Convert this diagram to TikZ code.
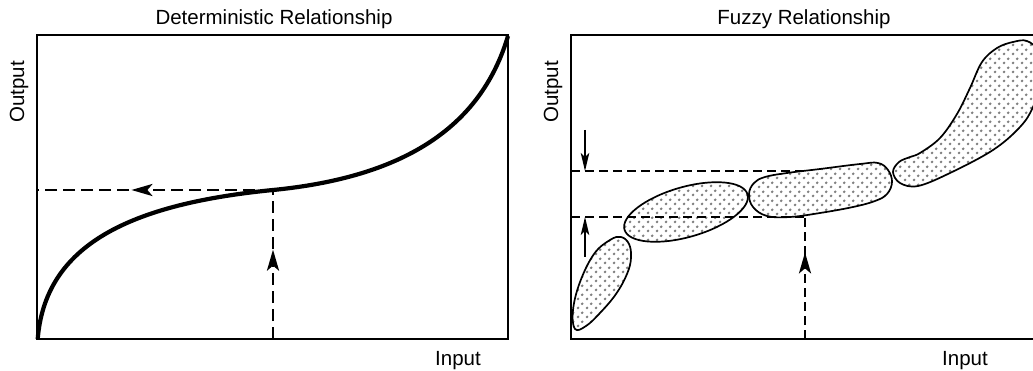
\documentclass[tikz,border=0pt]{standalone}
\usepackage{fontspec}
\setmainfont{Liberation Sans}
\usetikzlibrary{arrows.meta,patterns.meta,decorations.markings}
\tikzdeclarepattern{
  name=fuzzydots, type=uncolored,
  bounding box={(0pt,0pt) and (8.6pt,8.6pt)},
  tile size={(8.6pt,8.6pt)},
  code={\fill (2.15pt,2.15pt) circle (1.5pt); \fill (6.45pt,6.45pt) circle (1.5pt);}
}
\tikzset{
  lbl/.style={font=\fontsize{20.5}{24}\selectfont, inner sep=0pt},
  frame/.style={line width=2.8pt},
  curvestyle/.style={line width=4.2pt},
  dashleft/.style={line width=2.9pt, dash pattern=on 12pt off 6pt},
  dashright/.style={line width=2.5pt, dash pattern=on 9pt off 5pt},
  arrmark/.style={postaction=decorate, decoration={markings,
      mark=at position #1 with {\arrow{Stealth[length=21pt,width=12pt,inset=5pt]}}}},
  smallarrow/.style={line width=1.3pt, -{Stealth[length=18pt,width=8.5pt,inset=4pt]}},
  blob/.style={draw, line width=1.7pt, pattern={fuzzydots}, pattern color=black!50}
}
\begin{document}
\begin{tikzpicture}[x=1pt,y=-1pt]
\clip (0,0) rectangle (1033,371);

% ---------- left panel ----------
\node[lbl, anchor=base] (t1) at (274,25) {Deterministic Relationship};
\node[lbl, anchor=base, rotate=90] (o1) at (24,92) {Output};
\node[lbl, anchor=base] (i1) at (458,365) {Input};
\draw[frame] (37,35) rectangle (508,339);

\coordinate (O) at (37.7,339);
\coordinate (P) at (273,190);
\coordinate (E) at (508,36);
\coordinate (Px) at (273,339);
\coordinate (Py) at (37,190);

\draw[curvestyle] (O) .. controls (45,250) and (120,205) .. (P)
                      .. controls (400,177.5) and (480,130) .. (E);

\draw[dashleft, arrmark=0.6] (P) -- (Py);
\draw[dashleft, arrmark=0.6] (Px) -- (P);

% ---------- right panel ----------
\node[lbl, anchor=base] (t2) at (804,25) {Fuzzy Relationship};
\node[lbl, anchor=base, rotate=90] (o2) at (558,92) {Output};
\node[lbl, anchor=base] (i2) at (965,365) {Input};
\draw[frame] (571,35) rectangle (1037,339);

% blob A
\draw[blob] plot[smooth cycle, tension=0.65] coordinates {
  (575,329) (573,310) (580,282) (594,254) (610,240) (621,237) (629,244)
  (631,258) (627,274) (616,294) (600,313) (586,326)};
% blob B
\draw[blob, rotate around={16:(686,212)}] (686,212) ellipse [x radius=64, y radius=25];
% blob C
\draw[blob] plot[smooth cycle, tension=0.65] coordinates {
  (749,194) (754,183) (765,177) (787,173) (820,169) (860,164) (878,163)
  (888,170) (892,182) (887,194) (875,201) (853,207) (820,213) (790,217)
  (767,216) (753,207)};
% blob D
\draw[blob] plot[smooth cycle, tension=0.6] coordinates {
  (893,172) (899,162) (910,157) (920,153) (940,138) (957,114) (970,88)
  (982,62) (997,48) (1013,42) (1027,41) (1038,52) (1041,80) (1033,107)
  (1020,127) (993,150) (950,173) (918,186) (900,183)};

\coordinate (U0) at (571,171);
\coordinate (U1) at (805,171);
\coordinate (L0) at (571,217);
\coordinate (L1) at (805,217);
\coordinate (Q) at (805,339);
\coordinate (a1s) at (585,130);
\coordinate (a1e) at (585,171);
\coordinate (a2s) at (585,257);
\coordinate (a2e) at (585,217);

\draw[dashright] (U0) -- (U1);
\draw[dashright] (L0) -- (L1);
\draw[dashright, arrmark=0.71] (Q) -- (L1);
\draw[smallarrow] (a1s) -- (a1e);
\draw[smallarrow] (a2s) -- (a2e);
\end{tikzpicture}
\end{document}
